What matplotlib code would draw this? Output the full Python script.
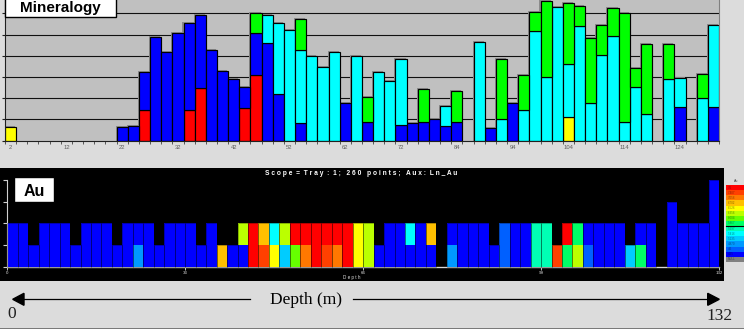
import numpy as np
import matplotlib
matplotlib.use('Agg')
import matplotlib.pyplot as plt
from matplotlib.patches import Rectangle, Polygon
from matplotlib.colors import ListedColormap, BoundaryNorm

plt.rcParams['font.family'] = ['Liberation Sans', 'DejaVu Sans']

# ---------------- data: Mineralogy (stacked, gridline = 1 unit) ----------------
top_tick_labels = ['2', '12', '22', '32', '42', '52', '62', '72', '84', '94', '104', '114', '124']
red = [0, 0, 0, 0, 0, 0, 0, 0, 0, 0,
       0, 0, 1.42, 0, 0, 0, 1.42, 2.46, 0, 0,
       0, 1.52, 3.08, 0, 0, 0, 0, 0, 0, 0,
       0, 0, 0, 0, 0, 0, 0, 0, 0, 0,
       0, 0, 0, 0, 0, 0, 0, 0, 0, 0,
       0, 0, 0, 0, 0, 0, 0, 0, 0, 0,
       0, 0, 0, 0]
blue = [0, 0, 0, 0, 0, 0, 0, 0, 0, 0,
        .64, .68, 1.81, 4.87, 4.16, 5.06, 4.14, 3.46, 4.25, 3.29,
        2.89, .99, 2.00, 4.58, 2.18, 0, .81, 0, 0, 0,
        1.78, 0, .86, 0, 0, .72, .84, .87, 1.00, .67,
        .86, 0, 0, .58, 0, 1.75, 0, 0, 0, 0,
        0, 0, 0, 0, 0, 0, 0, 0, 0, 0,
        1.58, 0, 0, 1.59]
yellow = [.62, 0, 0, 0, 0, 0, 0, 0, 0, 0,
          0, 0, 0, 0, 0, 0, 0, 0, 0, 0,
          0, 0, 0, 0, 0, 0, 0, 0, 0, 0,
          0, 0, 0, 0, 0, 0, 0, 0, 0, 0,
          0, 0, 0, 0, 0, 0, 0, 0, 0, 0,
          1.09, 0, 0, 0, 0, 0, 0, 0, 0, 0,
          0, 0, 0, 0]
cyan = [0, 0, 0, 0, 0, 0, 0, 0, 0, 0,
        0, 0, 0, 0, 0, 0, 0, 0, 0, 0,
        0, 0, 0, 1.34, 3.35, 5.21, 3.44, 4.00, 3.45, 4.16,
        0, 4.00, 0, 3.22, 2.79, 3.11, 0, 0, 0, .96,
        0, 0, 4.66, 0, 1.01, 0, 1.42, 5.15, 2.98, 6.31,
        2.53, 5.40, 1.78, 4.02, 4.94, .86, 2.51, 1.24, 0, 2.89,
        1.38, 0, 1.99, 3.87]
green = [0, 0, 0, 0, 0, 0, 0, 0, 0, 0,
         0, 0, 0, 0, 0, 0, 0, 0, 0, 0,
         0, 0, .92, 0, 0, 0, 1.47, 0, 0, 0,
         0, 0, 1.18, 0, 0, 0, 0, 1.55, 0, 0,
         1.47, 0, 0, 0, 2.82, 0, 1.66, .91, 3.59, 0,
         2.88, .96, 3.04, 1.41, 1.31, 5.14, .92, 3.33, 0, 1.68,
         0, 0, 1.15, 0]

# ---------------- data: Au (Ln_Au per sample, stacked per interval) ----------------
au_cells = [
    [4.1, 4.1], [4.1, 4.1], [4.1], [4.1, 4.1], [4.1, 4.1], [4.1, 4.1], [4.1], [4.1, 4.1], [4.1, 4.1], [4.1, 4.1],
    [4.1], [4.1, 4.1], [4.7, 4.1], [4.1, 4.1], [4.1], [4.1, 4.1], [4.1, 4.1], [4.1, 4.1], [4.1], [4.1, 4.1],
    [6.6], [4.1], [4.1, 6.2], [7.5, 7.5], [7.2, 6.6], [6.44, 5.3], [5.0, 6.2], [5.93, 7.5], [6.9, 7.5], [7.5, 7.5],
    [7.2, 7.5], [6.9, 7.5], [7.5, 7.5], [6.44, 6.44], [6.2, 6.2], [4.1], [4.1, 4.1], [4.1, 4.1], [4.1, 5.3], [4.1, 4.1],
    [4.1, 6.6], [], [4.7, 4.1], [4.1, 4.1], [4.1, 4.1], [4.1, 4.1], [4.1], [4.5, 4.5], [4.1, 4.1], [4.1, 4.1],
    [5.55, 5.55], [5.55, 5.55], [7.2], [5.78, 7.5], [6.2, 5.78], [4.5, 4.1], [4.1, 4.1], [4.1, 4.1], [4.1, 4.1], [5.0],
    [5.78, 4.1], [4.1, 4.1], [], [4.1, 4.1, 4.1], [4.1, 4.1], [4.1, 4.1], [4.1, 4.1], [4.1, 4.1, 4.1, 4.1],
]
au_ticks = [0, 33, 66, 99, 132]
au_edges = [3.5, 4.35, 4.6, 4.87, 5.135, 5.416, 5.697, 5.867, 6.004, 6.356, 6.526, 6.702, 7.056, 7.407, 8.0]
au_colors = ['#0000ff', '#0060ff', '#0099ff', '#00ccff', '#00ffff', '#00ffb4', '#00ff66',
             '#66ff00', '#bbff00', '#ffff00', '#ffc000', '#ff7800', '#ff4000', '#ff0000']
legend_labels = ['7.6', '7.407', '7.056', '6.702', '6.526', '6.356', '6.004', '5.867',
                 '5.697', '5.416', '5.135', '4.870', '4.6', '4.35', 'NULL']

W, H = 744, 329
fig = plt.figure(figsize=(W / 100, H / 100), dpi=100, facecolor='#dcdcdc')


def px(x0, y0, x1, y1):
    return [x0 / W, 1 - y1 / H, (x1 - x0) / W, (y1 - y0) / H]


# ---------------- top panel ----------------
ax = fig.add_axes(px(5, 0, 719, 140.5))
ax.set_facecolor('#c0c0c0')
n = len(red)
x = np.arange(n)
ax.set_xlim(0, n)
ax.set_ylim(0, 140.5 / 21.2)
for g in range(1, 7):
    ax.axhline(g, color='#101010', lw=0.8, zorder=1)

series = [(red, '#ff0000'), (blue, '#0000ff'), (yellow, '#ffff00'), (cyan, '#00ffff'), (green, '#00ff00')]
total = np.zeros(n)
for vals, _ in series:
    total += np.array(vals)
# shadow
m = total > 0
ax.bar(x[m] - 0.09, total[m] + 0.05, width=1, align='edge', color='#8a8a8a', edgecolor='none', zorder=1.5)
cum = np.zeros(n)
for vals, col in series:
    v = np.array(vals)
    mk = v > 0
    ax.bar(x[mk], v[mk], bottom=cum[mk], width=1, align='edge', color=col,
           edgecolor='black', linewidth=0.85, zorder=2)
    cum += v

ax.spines['top'].set_visible(False)
ax.spines['right'].set_color('#808080')
ax.spines['left'].set_color('#202020')
ax.spines['bottom'].set_color('#202020')
ax.set_yticks(range(0, 7))
ax.set_yticklabels([])
ax.tick_params(axis='y', length=2.5, width=0.8, color='#202020')
ax.set_xticks(x[::5] + 0.5)
ax.set_xticklabels(top_tick_labels, fontsize=4.2, color='#606060')
ax.set_xticks(np.arange(0, n + 1), minor=True)
ax.tick_params(axis='x', which='major', length=0, pad=3)
ax.tick_params(axis='x', which='minor', length=2, width=0.6, color='#404040')

# ---------------- bottom panel ----------------
ax2 = fig.add_axes(px(0, 168, 724, 281))
ax2.set_facecolor('black')
sc = 711.7 / 132
ax2.set_xlim(-7.3 / sc, 132 + 5 / sc)
ax2.set_ylim(-(281 - 266.7) / 21.7, (266.7 - 168) / 21.7)
cmap = ListedColormap(au_colors)
norm = BoundaryNorm(au_edges, cmap.N)
nb = len(au_cells)
w = 132 / nb
ax2.plot([0, 132], [0, 0], color='#d8d8d8', lw=0.9, zorder=1)
for i, cells in enumerate(au_cells):
    for j, v in enumerate(cells):
        ax2.bar(i * w, 1, bottom=j, width=w, align='edge', color=cmap(norm(v)),
                edgecolor='none', zorder=2)
    if cells:
        ax2.bar(i * w, len(cells), width=w, align='edge', fill=False,
                edgecolor=(0, 0, 0, 0.35), linewidth=0.6, zorder=3)
for s in ['top', 'right']:
    ax2.spines[s].set_visible(False)
ax2.spines['left'].set_position(('data', 0))
ax2.spines['left'].set_bounds(0, 4)
ax2.spines['left'].set_color('#d0d0d0')
ax2.spines['bottom'].set_position(('data', 0))
ax2.spines['bottom'].set_bounds(0, 132)
ax2.spines['bottom'].set_color('#d0d0d0')
ax2.spines['bottom'].set_zorder(0.5)
ax2.set_yticks(range(0, 5))
ax2.set_yticklabels([])
ax2.tick_params(axis='y', length=3, width=0.8, color='#d0d0d0')
ax2.set_xticks(au_ticks)
ax2.set_xticklabels([str(t) for t in au_ticks], fontsize=3.2, color='#e0e0e0')
ax2.tick_params(axis='x', length=2, width=0.6, color='#e0e0e0', pad=0.8)

# ---------------- overlay annotations ----------------
ov = fig.add_axes([0, 0, 1, 1])
ov.set_xlim(0, W)
ov.set_ylim(H, 0)
ov.axis('off')
ov.patch.set_alpha(0)
ov.set_zorder(10)

ov.add_patch(Rectangle((5, -5), 110.5, 21.7, facecolor='white', edgecolor='black', lw=1))
ov.text(60, 12, 'Mineralogy', fontsize=11, fontweight='bold', ha='center', va='baseline')
ov.add_patch(Rectangle((14, 177.3), 40, 24.4, facecolor='white', edgecolor='black', lw=1))
ov.text(34, 196, 'Au', fontsize=11.5, fontweight='bold', ha='center', va='baseline')

ov.text(361, 173.6, 'S c o p e  =  T r a y  :  1 ;   2 6 0   p o i n t s ;   A u x :  L n _ A u',
        color='white', fontsize=4.75, fontweight='bold', ha='center', va='center')
ov.text(352, 277.3, 'D e p t h', color='#e0e0e0', fontsize=3.3, ha='center', va='center')

# legend
rh = 77 / 15
leg_cols = list(reversed(au_colors)) + ['#808080']
for k, (c, lab) in enumerate(zip(leg_cols, legend_labels)):
    ov.add_patch(Rectangle((726, 185 + k * rh), 20, rh, facecolor=c, edgecolor='none'))
    ov.text(727.5, 185 + (k + 0.5) * rh, lab, fontsize=2.2, color=(0, 0, 0, 0.45),
            ha='left', va='center')
ov.plot([726, 744], [185 + 8 * rh, 185 + 8 * rh], color='black', lw=0.8)
ov.text(736, 181.5, 'Au', fontsize=2.5, color='#404040', ha='center', va='center')

# depth arrow
yA = 299.3
ov.plot([24, 250], [yA, yA], color='black', lw=0.9)
ov.plot([352.7, 708], [yA, yA], color='black', lw=0.9)
ov.add_patch(Polygon([(12.7, yA), (24, yA - 6), (24, yA + 6)], closed=True, color='black'))
ov.add_patch(Polygon([(719.3, yA), (707.7, yA - 6), (707.7, yA + 6)], closed=True, color='black'))
ov.text(306, 300, 'Depth (m)', fontsize=12.5, family=['Liberation Serif', 'DejaVu Serif'],
        ha='center', va='center')
ov.text(11.3, 313.5, '0', fontsize=12.5, family=['Liberation Serif', 'DejaVu Serif'],
        ha='center', va='center', color='#202020')
ov.text(720, 316, '132', fontsize=12.5, family=['Liberation Serif', 'DejaVu Serif'],
        ha='center', va='center', color='#202020')
ov.add_patch(Rectangle((0, 327.5), W, 2, facecolor='#7a7a7a', edgecolor='none'))

fig.savefig('out.png', dpi=100, facecolor=fig.get_facecolor())
